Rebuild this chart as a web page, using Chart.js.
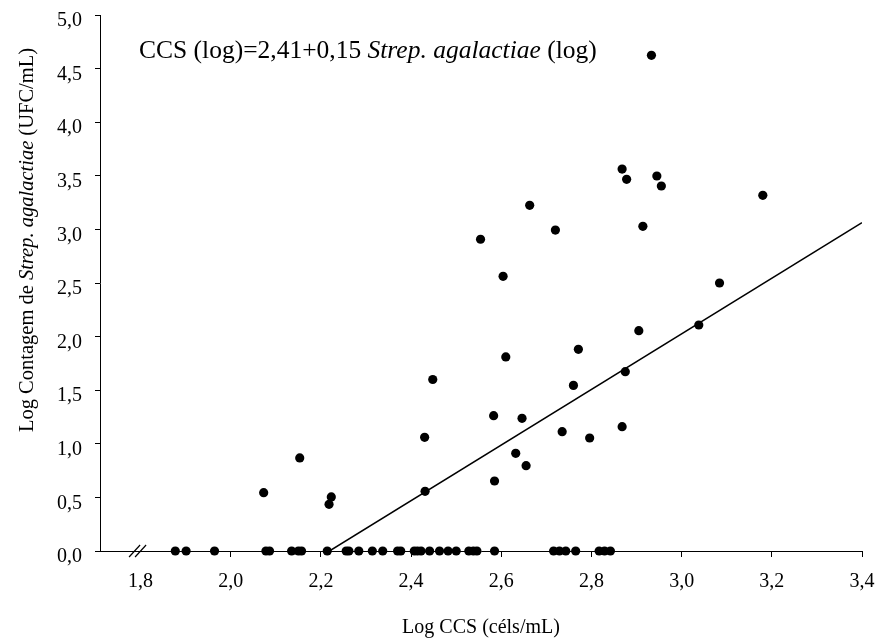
<!DOCTYPE html>
<html>
<head>
<meta charset="utf-8">
<script src="https://cdn.jsdelivr.net/npm/chart.js@4/dist/chart.umd.min.js"></script>
<style>
  html, body { margin: 0; padding: 0; background: #fff; }
  #wrap { width: 878px; height: 643px; }
</style>
</head>
<body>
<div id="wrap"><canvas id="c" width="878" height="643"></canvas></div>
<script>
// ---- data ----
const ccsLog = [
  // Strep. agalactiae = 0
  1.877, 1.901, 1.964, 2.078, 2.086, 2.135, 2.150, 2.157, 2.214, 2.256, 2.262, 2.284,
  2.314, 2.337, 2.370, 2.377, 2.407, 2.414, 2.422, 2.441, 2.463, 2.482, 2.500, 2.528,
  2.538, 2.546, 2.585, 2.716, 2.729, 2.743, 2.765, 2.817, 2.829, 2.842,
  // positive counts
  2.448, 2.430, 2.431, 2.153, 2.073, 2.223, 2.218,
  2.933, 2.868, 2.878, 2.945, 2.955, 3.180, 2.663, 2.720, 2.914, 2.554, 2.604, 3.084,
  3.038, 2.905, 2.610, 2.771, 2.875, 2.760, 2.583, 2.646, 2.735, 2.796, 2.868, 2.632, 2.655, 2.585
];
const strepLog = [
  0, 0, 0, 0, 0, 0, 0, 0, 0, 0, 0, 0,
  0, 0, 0, 0, 0, 0, 0, 0, 0, 0, 0, 0,
  0, 0, 0, 0, 0, 0, 0, 0, 0, 0,
  1.60, 1.06, 0.557, 0.868, 0.544, 0.504, 0.435,
  4.624, 3.563, 3.467, 3.498, 3.405, 3.318, 3.225, 2.994, 3.029, 2.908, 2.562, 2.500,
  2.108, 2.055, 1.810, 1.881, 1.673, 1.545, 1.262, 1.238, 1.113, 1.054, 1.160, 0.911, 0.796, 0.653
];
const fitCcs = [2.219, 3.4];
const fitStrep = [0, 3.064];
const xTickValues = [1.8, 2.0, 2.2, 2.4, 2.6, 2.8, 3.0, 3.2, 3.4];
const yTickValues = [0, 0.5, 1.0, 1.5, 2.0, 2.5, 3.0, 3.5, 4.0, 4.5, 5.0];
const xAxisBreakAt = 1.8;
const xTitle = 'Log CCS (céls/mL)';
const yTitleRuns = [['Log Contagem de ', false], ['Strep. agalactiae', true], [' (UFC/mL)', false]];
const eqRuns = [['CCS (log)=2,41+0,15 ', false], ['Strep. agalactiae', true], [' (log)', false]];

// ---- rendering ----
const FONT = "'Liberation Serif', 'Times New Roman', serif";
const fmt = v => Number(v).toFixed(1).replace('.', ',');

function measureRuns(ctx, runs, size) {
  let w = 0;
  runs.forEach(([t, it]) => { ctx.font = (it ? 'italic ' : '') + size + 'px ' + FONT; w += ctx.measureText(t).width; });
  return w;
}
function paintRuns(ctx, runs, size, x, y) {
  runs.forEach(([t, it]) => {
    ctx.font = (it ? 'italic ' : '') + size + 'px ' + FONT;
    ctx.fillText(t, x, y);
    x += ctx.measureText(t).width;
  });
}

const extras = {
  id: 'extras',
  afterDraw(chart) {
    const ctx = chart.ctx;
    const xs = chart.scales.x, ys = chart.scales.y;
    ctx.save();
    ctx.fillStyle = '#000';
    ctx.textBaseline = 'alphabetic';
    ctx.textAlign = 'left';
    // equation annotation
    paintRuns(ctx, eqRuns, 25.5, 139, 58);
    // y-axis title (rotated)
    const ySize = 20.5;
    const w = measureRuns(ctx, yTitleRuns, ySize);
    ctx.translate(33, 240 + w / 2);
    ctx.rotate(-Math.PI / 2);
    paintRuns(ctx, yTitleRuns, ySize, 0, 0);
    ctx.restore();
    // axis break marks
    ctx.save();
    ctx.strokeStyle = '#000';
    ctx.lineWidth = 1.2;
    const bx = xs.getPixelForValue(xAxisBreakAt) - 3;
    const by = ys.getPixelForValue(0);
    [-3, 3].forEach(d => {
      ctx.beginPath();
      ctx.moveTo(bx + d - 5.5, by + 6);
      ctx.lineTo(bx + d + 5.5, by - 6);
      ctx.stroke();
    });
    ctx.restore();
  }
};

new Chart(document.getElementById('c'), {
  type: 'scatter',
  data: {
    datasets: [
      {
        label: 'dados',
        data: ccsLog.map((x, i) => ({ x: x, y: strepLog[i] })),
        pointRadius: 4.6,
        pointHoverRadius: 4.6,
        pointBackgroundColor: '#000',
        pointBorderWidth: 0,
        showLine: false,
        clip: false
      },
      {
        label: 'regressão',
        type: 'line',
        data: fitCcs.map((x, i) => ({ x: x, y: fitStrep[i] })),
        borderColor: '#000',
        borderWidth: 1.5,
        pointRadius: 0,
        fill: false,
        tension: 0
      }
    ]
  },
  options: {
    responsive: false,
    animation: false,
    events: [],
    layout: { padding: { left: 0, right: 16, top: 15, bottom: 0 } },
    plugins: { legend: { display: false }, tooltip: { enabled: false } },
    scales: {
      x: {
        type: 'linear',
        min: 1.71,
        max: 3.4,
        afterBuildTicks: s => { s.ticks = xTickValues.map(v => ({ value: v })); },
        afterFit: s => { s.height = 92; s.paddingLeft = 0; s.paddingRight = 0; },
        ticks: {
          callback: v => fmt(v),
          color: '#000',
          font: { family: FONT, size: 20 },
          padding: 13,
          maxRotation: 0,
          autoSkip: false
        },
        grid: {
          drawOnChartArea: false,
          drawTicks: true,
          tickLength: 6,
          lineWidth: 1,
          color: c => (c.tick && Math.abs(c.tick.value - xAxisBreakAt) < 1e-9) ? 'rgba(0,0,0,0)' : '#000'
        },
        border: { display: true, color: '#000', width: 1 },
        title: {
          display: true,
          text: xTitle,
          color: '#000',
          font: { family: FONT, size: 20 },
          padding: { top: 0, bottom: 3 }
        }
      },
      y: {
        type: 'linear',
        min: 0,
        max: 5,
        afterBuildTicks: s => { s.ticks = yTickValues.map(v => ({ value: v })); },
        afterFit: s => { s.width = 100; s.paddingTop = 0; s.paddingBottom = 0; },
        ticks: {
          callback: v => fmt(v),
          color: '#000',
          font: { family: FONT, size: 20 },
          padding: 13,
          labelOffset: 6,
          autoSkip: false
        },
        grid: {
          drawOnChartArea: false,
          drawTicks: true,
          tickLength: 5,
          lineWidth: 1,
          color: '#000'
        },
        border: { display: true, color: '#000', width: 1 }
      }
    }
  },
  plugins: [extras]
});
</script>
</body>
</html>
